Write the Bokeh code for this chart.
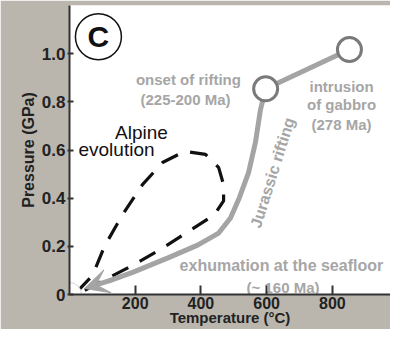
import numpy as np
from bokeh.plotting import figure
from bokeh.models import Arrow, VeeHead, FixedTicker
from bokeh.core.properties import value
from bokeh.embed import file_html
from bokeh.resources import INLINE

# ---- data ----
x_ticks = [200, 400, 600, 800]
y_ticks = [0, 0.2, 0.4, 0.6, 0.8, 1.0]
y_tick_labels = ["0", "0.2", "0.4", "0.6", "0.8", "1.0"]

# Jurassic rifting path (temperature degC, pressure GPa)
rift_T = [852, 597, 581, 566, 545, 517, 490, 454, 390, 298, 192, 125]
rift_P = [1.017, 0.854, 0.766, 0.632, 0.506, 0.402, 0.318, 0.255, 0.205, 0.151, 0.092, 0.059]
arrow_tip_T, arrow_tip_P = 46, 0.025

# key stations
station_T = [852, 597]
station_P = [1.017, 0.854]
origin_T, origin_P = [0], [0]

# Alpine evolution loop
alp_T = [24, 70, 107, 161, 222, 283, 350, 414, 454, 469, 469, 441, 374, 283, 192, 116, 33]
alp_P = [0.013, 0.079, 0.201, 0.331, 0.456, 0.548, 0.594, 0.582, 0.527, 0.456, 0.389,
         0.331, 0.272, 0.192, 0.121, 0.067, 0.008]

GREY_TXT = "#a6a6a6"
GREY_LINE = "#a4a4a4"
DARK = "#222222"

p = figure(width=390, height=329, output_backend="svg", toolbar_location=None,
           x_range=(0, 977), y_range=(0, 1.2),
           min_border_left=69, min_border_right=0, min_border_top=5, min_border_bottom=35)
p.background_fill_color = "#ffffff"
p.border_fill_color = "#bab6ae"
p.outline_line_color = None
p.grid.visible = False

# axes
p.xaxis.ticker = FixedTicker(ticks=x_ticks)
p.yaxis.ticker = FixedTicker(ticks=y_ticks)
p.yaxis.major_label_overrides = {t: l for t, l in zip(y_ticks, y_tick_labels)}
for ax in (p.xaxis, p.yaxis):
    ax.axis_line_color = "#333333"
    ax.axis_line_width = 2
    ax.major_tick_line_color = "#333333"
    ax.major_tick_line_width = 2
    ax.minor_tick_line_color = None
    ax.major_label_text_font = "Liberation Sans"
    ax.major_label_text_font_style = "bold"
    ax.major_label_text_font_size = "17px"
    ax.major_label_text_color = DARK
    ax.axis_label_text_font = "Liberation Sans"
    ax.axis_label_text_font_style = "bold"
    ax.axis_label_text_font_size = "15px"
    ax.axis_label_text_color = DARK
p.xaxis.major_tick_in = 9
p.xaxis.major_tick_out = 0
p.xaxis.major_label_standoff = 2
p.xaxis.major_label_text_font_size = "16px"
p.xaxis.axis_label = "Temperature (°C)"
p.xaxis.axis_label_standoff = -3
p.yaxis.major_tick_in = 4
p.yaxis.major_tick_out = 2
p.yaxis.major_label_standoff = 2
p.yaxis.axis_label = "Pressure (GPa)"
p.yaxis.axis_label_text_font_size = "16px"
p.yaxis.axis_label_standoff = 2

# Alpine loop (dashed)
p.line(alp_T, alp_P, line_color="#111111", line_width=3.2, line_dash="18 13")

# Jurassic rifting path
p.line(rift_T, rift_P, line_color=GREY_LINE, line_width=5, line_cap="round")
p.add_layout(Arrow(end=VeeHead(size=24, fill_color=GREY_LINE, line_color=GREY_LINE),
                   x_start=rift_T[-1], y_start=rift_P[-1],
                   x_end=arrow_tip_T, y_end=arrow_tip_P,
                   line_color=GREY_LINE, line_width=5))
p.scatter(station_T, station_P, size=24, fill_color="white",
          line_color="#7a7a7a", line_width=3)

# origin marker
p.scatter(origin_T, origin_P, size=24, fill_color="white", line_color="#d6d6d6", line_width=1)

# panel letter
p.scatter([88], [1.07], size=46, fill_color="white", line_color="#111111", line_width=1.5)
p.text([88], [1.07], text=["C"], text_font=value("Liberation Sans"), text_font_style="bold",
       text_font_size="30px", text_align="center", text_baseline="middle", text_color="#111111")

# annotations
def txt(x, y, s, color=GREY_TXT, size="15px", style="bold", angle=0, align="center"):
    p.text([x], [y], text=[s], text_font=value("Liberation Sans"), text_font_style=style,
           text_font_size=size, text_align=align, text_baseline="middle",
           text_color=color, angle=angle)

txt(362, 0.891, "onset of rifting")
txt(353, 0.808, "(225-200 Ma)")
txt(828, 0.862, "intrusion")
txt(828, 0.787, "of gabbro")
txt(828, 0.707, "(278 Ma)")
txt(219, 0.674, "Alpine", color="#111111", size="19px", style="normal")
txt(143, 0.603, "evolution", color="#111111", size="19px", style="normal")
txt(618, 0.506, "Jurassic rifting", size="16px", angle=np.deg2rad(72.5))
txt(645, 0.122, "exhumation at the seafloor", size="16px")
txt(650, 0.030, "(~ 160 Ma)")

open("out.html", "w").write(file_html(p, INLINE))
